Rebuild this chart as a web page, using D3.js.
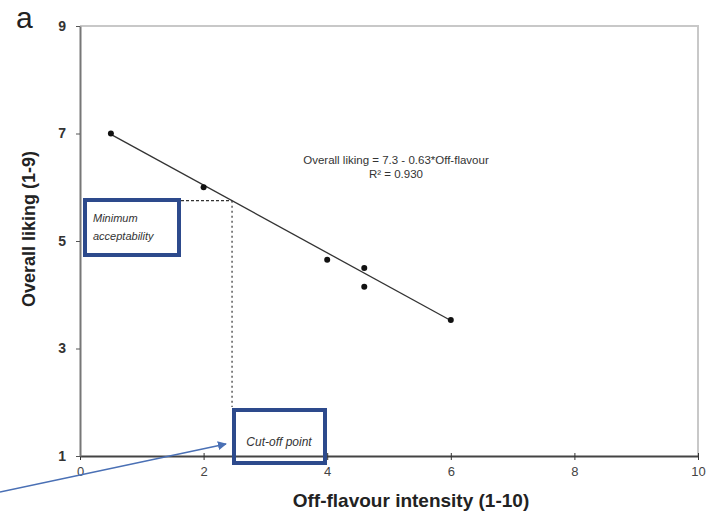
<!DOCTYPE html>
<html>
<head>
<meta charset="utf-8">
<script src="https://cdn.jsdelivr.net/npm/d3@7"></script>
<style>
  body { margin: 0; background: #fff; }
  text { font-family: "Liberation Sans", Arial, sans-serif; }
</style>
</head>
<body>
<div id="chart"></div>
<script>
// observed points (off-flavour intensity vs overall liking)
const offFlavour = [0.5, 2.0, 4.0, 4.6, 4.6, 6.0];
const liking = [7.0, 6.0, 4.65, 4.5, 4.15, 3.53];
const xTicks = [0, 2, 4, 6, 8, 10];
const yTicks = [1, 3, 5, 7, 9];
const fitIntercept = 7.3;
const fitSlope = -0.63;
const fitRange = [0.5, 6.0];
const minAccept = 5.75;

let width = 711;
let height = 518;
let margin = { top: 26, right: 13, bottom: 62, left: 80 };

let x = d3.scaleLinear().domain([0, 10]).range([margin.left, width - margin.right]);
let y = d3.scaleLinear().domain([1, 9]).range([height - margin.bottom, margin.top]);

let svg = d3.select('#chart').append('svg')
	.attr('width', width)
	.attr('height', height);

// frame (top and right, light gray)
svg.append('path')
	.attr('d', `M${x(0)},${y(9)}H${x(10)}V${y(1)}`)
	.attr('fill', 'none')
	.attr('stroke', '#c8c8c8')
	.attr('stroke-width', 2);

// axes
let xAxis = svg.append('g')
	.attr('transform', `translate(0,${y(1)})`)
	.call(d3.axisBottom(x).tickValues(xTicks).tickSizeInner(4).tickSizeOuter(0).tickPadding(7));
let yAxis = svg.append('g')
	.attr('transform', `translate(${x(0)},0)`)
	.call(d3.axisLeft(y).tickValues(yTicks).tickSizeInner(4).tickSizeOuter(0).tickPadding(10));

xAxis.select('.domain').attr('stroke', '#444').attr('stroke-width', 2);
yAxis.select('.domain').attr('stroke', '#777').attr('stroke-width', 2);
xAxis.selectAll('.tick line').attr('y1', -3).attr('stroke', '#333');
yAxis.selectAll('.tick line').attr('stroke', '#555');
xAxis.selectAll('.tick text').style('font-size', '13px').attr('fill', '#444');
yAxis.selectAll('.tick text').style('font-size', '14px').style('font-weight', 'bold').attr('fill', '#333');

// dashed guides to cut-off point
let cutOff = (minAccept - fitIntercept) / fitSlope;
svg.append('line')
	.attr('x1', 181).attr('x2', x(cutOff))
	.attr('y1', y(minAccept)).attr('y2', y(minAccept))
	.attr('stroke', '#333').attr('stroke-width', 1.2)
	.attr('stroke-dasharray', '3,2');
svg.append('line')
	.attr('x1', x(cutOff)).attr('x2', x(cutOff))
	.attr('y1', y(minAccept)).attr('y2', 407)
	.attr('stroke', '#333').attr('stroke-width', 1.2)
	.attr('stroke-dasharray', '2,3');

// regression line
svg.append('line')
	.attr('x1', x(fitRange[0])).attr('y1', y(fitIntercept + fitSlope * fitRange[0]))
	.attr('x2', x(fitRange[1])).attr('y2', y(fitIntercept + fitSlope * fitRange[1]))
	.attr('stroke', '#333').attr('stroke-width', 1.3);

// points
svg.selectAll('circle.pt')
	.data(offFlavour.map((d, i) => [d, liking[i]]))
	.enter()
	.append('circle')
	.attr('class', 'pt')
	.attr('cx', d => x(d[0]))
	.attr('cy', d => y(d[1]))
	.attr('r', 3)
	.attr('fill', '#111');

// equation
svg.append('text')
	.attr('x', 396).attr('y', 164)
	.attr('text-anchor', 'middle')
	.style('font-size', '11.5px').attr('fill', '#333')
	.text('Overall liking = 7.3 - 0.63*Off-flavour');
svg.append('text')
	.attr('x', 396).attr('y', 178)
	.attr('text-anchor', 'middle')
	.style('font-size', '11.5px').attr('fill', '#333')
	.text('R² = 0.930');

// callout boxes
svg.append('rect')
	.attr('x', 85).attr('y', 200).attr('width', 94).attr('height', 55)
	.attr('fill', '#fff').attr('stroke', '#2d4a8c').attr('stroke-width', 4);
svg.append('text')
	.attr('x', 93).attr('y', 222)
	.style('font-size', '11px').style('font-style', 'italic').attr('fill', '#333')
	.text('Minimum');
svg.append('text')
	.attr('x', 93).attr('y', 240)
	.style('font-size', '11px').style('font-style', 'italic').attr('fill', '#333')
	.text('acceptability');

svg.append('rect')
	.attr('x', 234).attr('y', 410).attr('width', 91).attr('height', 53)
	.attr('fill', 'none').attr('stroke', '#2d4a8c').attr('stroke-width', 4);
svg.append('text')
	.attr('x', 279).attr('y', 446)
	.attr('text-anchor', 'middle')
	.style('font-size', '12px').style('font-style', 'italic').attr('fill', '#333')
	.text('Cut-off point');

// arrow
svg.append('defs').append('marker')
	.attr('id', 'arrow')
	.attr('viewBox', '0 0 10 10')
	.attr('refX', 9).attr('refY', 5)
	.attr('markerWidth', 6).attr('markerHeight', 6)
	.attr('orient', 'auto')
	.append('path')
	.attr('d', 'M0,0L10,5L0,10z')
	.attr('fill', '#4a70b5');
svg.append('line')
	.attr('x1', 0).attr('y1', 492)
	.attr('x2', 226).attr('y2', 444)
	.attr('stroke', '#4a70b5').attr('stroke-width', 1.5)
	.attr('marker-end', 'url(#arrow)');

// panel letter
svg.append('text')
	.attr('x', 16).attr('y', 28)
	.style('font-size', '30px').attr('fill', '#222')
	.text('a');

// axis titles
svg.append('text')
	.attr('x', 411).attr('y', 507)
	.attr('text-anchor', 'middle')
	.style('font-size', '19px').style('font-weight', 'bold').attr('fill', '#222')
	.text('Off-flavour intensity (1-10)');
svg.append('text')
	.attr('transform', 'translate(35,229) rotate(-90)')
	.attr('text-anchor', 'middle')
	.style('font-size', '18px').style('font-weight', 'bold').attr('fill', '#222')
	.text('Overall liking (1-9)');
</script>
</body>
</html>
